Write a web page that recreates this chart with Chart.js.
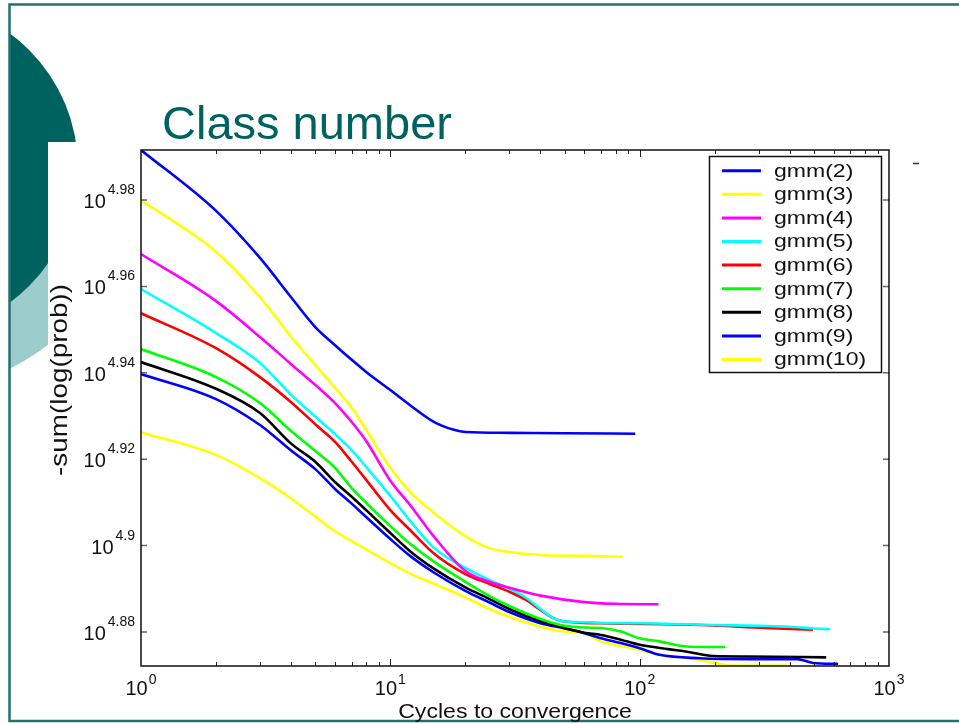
<!DOCTYPE html>
<html lang="en">
<head>
  <meta charset="UTF-8" />
  <title>Class number</title>
  <script src="https://cdn.jsdelivr.net/npm/chart.js"></script>
  <style>
    body {
      margin: 0;
      background: white;
      font-family: 'Liberation Sans', Arial, sans-serif;
      overflow: hidden;
    }
    #slide {
      position: relative;
      width: 959px;
      height: 723px;
    }
    #slide canvas {
      position: absolute;
      left: 0;
      top: 0;
    }
    h1 {
      position: absolute;
      left: 162px;
      top: 99px;
      margin: 0;
      font-size: 47px;
      line-height: 47px;
      font-weight: normal;
      color: #00625f;
    }
  </style>
</head>
<body>
  <div id="slide">
    <canvas id="gmmChart" width="959" height="723"></canvas>
    <h1>Class number</h1>
  </div>

  <script>
    // y values are log10(-sum(log(prob)))
    const labels = ['gmm(2)', 'gmm(3)', 'gmm(4)', 'gmm(5)', 'gmm(6)', 'gmm(7)', 'gmm(8)', 'gmm(9)', 'gmm(10)'];

    const cyc2 = [1, 2, 3, 4, 5, 6, 7, 8, 10, 12, 15, 18, 20, 30, 50, 96];
    const val2 = [4.9916, 4.9775, 4.9666, 4.9575, 4.9506, 4.9464, 4.9430, 4.9402, 4.9360, 4.9325, 4.9286, 4.9268, 4.9263, 4.9261, 4.9260, 4.9259];

    const cyc3 = [1, 2, 3, 4, 5, 6, 7, 8, 10, 12, 15, 20, 25, 30, 40, 60, 86];
    const val3 = [4.9800, 4.9680, 4.9575, 4.9483, 4.9418, 4.9365, 4.9319, 4.9268, 4.9180, 4.9124, 4.9075, 4.9022, 4.8994, 4.8985, 4.8978, 4.8976, 4.8974];

    const cyc4 = [1, 2, 3, 4, 5, 6, 7, 8, 10, 12, 15, 20, 25, 30, 40, 60, 80, 119];
    const val4 = [4.9675, 4.9566, 4.9483, 4.9420, 4.9372, 4.9330, 4.9286, 4.9242, 4.9150, 4.9094, 4.9020, 4.8941, 4.8916, 4.8902, 4.8884, 4.8869, 4.8865, 4.8864];

    const cyc5 = [1, 2, 3, 4, 5, 6, 7, 8, 10, 12, 15, 20, 25, 30, 35, 40, 45, 50, 100, 200, 300, 400, 500, 580];
    const val5 = [4.9594, 4.9492, 4.9423, 4.9349, 4.9299, 4.9258, 4.9221, 4.9182, 4.9115, 4.9057, 4.8994, 4.8948, 4.8920, 4.8900, 4.8879, 4.8853, 4.8832, 4.8824, 4.8820, 4.8816, 4.8814, 4.8812, 4.8808, 4.8806];

    const cyc6 = [1, 2, 3, 4, 5, 6, 7, 8, 10, 12, 15, 20, 25, 30, 35, 40, 45, 50, 70, 175, 320, 496];
    const val6 = [4.9538, 4.9457, 4.9390, 4.9332, 4.9281, 4.9240, 4.9194, 4.9152, 4.9082, 4.9036, 4.8981, 4.8934, 4.8911, 4.8893, 4.8874, 4.8851, 4.8832, 4.8824, 4.8820, 4.8816, 4.8809, 4.8805];

    const cyc7 = [1, 2, 3, 4, 5, 6, 7, 8, 10, 12, 15, 20, 25, 30, 40, 50, 60, 70, 84, 100, 120, 145, 175, 220];
    const val7 = [4.9455, 4.9390, 4.9330, 4.9265, 4.9219, 4.9180, 4.9133, 4.9099, 4.9045, 4.9004, 4.8962, 4.8916, 4.8883, 4.8860, 4.8830, 4.8814, 4.8810, 4.8809, 4.8801, 4.8785, 4.8778, 4.8768, 4.8765, 4.8765];

    const cyc8 = [1, 2, 3, 4, 5, 6, 7, 8, 10, 12, 15, 20, 25, 30, 40, 50, 60, 70, 84, 100, 130, 155, 197, 270, 560];
    const val8 = [4.9425, 4.9363, 4.9307, 4.9236, 4.9194, 4.9147, 4.9113, 4.9082, 4.9029, 4.8987, 4.8946, 4.8903, 4.8876, 4.8853, 4.8825, 4.8809, 4.8798, 4.8793, 4.8782, 4.8770, 4.8760, 4.8754, 4.8744, 4.8743, 4.8741];

    const cyc9 = [1, 2, 3, 4, 5, 6, 7, 8, 10, 12, 15, 20, 25, 30, 40, 50, 60, 70, 84, 100, 120, 175, 277, 428, 496, 625];
    const val9 = [4.9397, 4.9339, 4.9279, 4.9220, 4.9177, 4.9131, 4.9097, 4.9066, 4.9015, 4.8976, 4.8937, 4.8895, 4.8868, 4.8846, 4.8820, 4.8808, 4.8797, 4.8785, 4.8774, 4.8762, 4.8747, 4.8739, 4.8737, 4.8737, 4.8728, 4.8726];

    const cyc10 = [1, 2, 3, 4, 5, 6, 7, 8, 10, 12, 15, 20, 25, 30, 40, 50, 60, 70, 94, 120, 175, 237, 390];
    const val10 = [4.9262, 4.9210, 4.9156, 4.9109, 4.9067, 4.9033, 4.9010, 4.8991, 4.8959, 4.8935, 4.8911, 4.8880, 4.8853, 4.8835, 4.8812, 4.8801, 4.8797, 4.8778, 4.8762, 4.8747, 4.8735, 4.8722, 4.8722];

    const xTickExp = ['0', '1', '2', '3'];
    const yTickExp = ['4.88', '4.9', '4.92', '4.94', '4.96', '4.98'];

    const cycles = [cyc2, cyc3, cyc4, cyc5, cyc6, cyc7, cyc8, cyc9, cyc10];
    const values = [val2, val3, val4, val5, val6, val7, val8, val9, val10];
    const colors = ['#0000ff', '#ffff00', '#ff00ff', '#00ffff', '#ff0000', '#00ff00', '#000000', '#0000ff', '#ffff00'];

    const FONT = "'Liberation Sans', Arial, sans-serif";

    // slide background: teal border and the two circles on the left
    const slideDeco = {
      id: 'slideDeco',
      beforeDraw(chart) {
        const c = chart.ctx;
        c.save();
        c.fillStyle = '#fff';
        c.fillRect(0, 0, chart.width, chart.height);

        c.save();
        c.beginPath();
        c.rect(9, 142, 39, 600);
        c.clip();
        c.fillStyle = '#9dcccc';
        c.beginPath();
        c.arc(-89, 170, 222, 0, Math.PI * 2);
        c.fill();
        c.restore();

        c.save();
        c.beginPath();
        c.rect(9, 0, 200, 142);
        c.rect(9, 142, 39, 600);
        c.clip();
        c.fillStyle = '#00625f';
        c.beginPath();
        c.arc(-89, 168, 167, 0, Math.PI * 2);
        c.fill();
        c.restore();

        c.strokeStyle = '#21726f';
        c.lineWidth = 2.5;
        c.beginPath();
        c.moveTo(959, 4.5);
        c.lineTo(9.5, 4.5);
        c.lineTo(9.5, 721);
        c.lineTo(959, 721);
        c.stroke();
        c.restore();
      }
    };

    function powText(c, sup, x, y, align) {
      c.font = '20px ' + FONT;
      const wb = c.measureText('10').width;
      c.font = '14px ' + FONT;
      const ws = c.measureText(sup).width;
      let left, baseY, supY;
      if (align === 'center') {
        left = x - (wb + 1 + ws) / 2;
        baseY = y;
        supY = y - 11;
      } else {
        left = x - ws - 2 - wb;
        baseY = y + 8;
        supY = y - 6;
      }
      c.textAlign = 'left';
      c.textBaseline = 'alphabetic';
      c.font = '20px ' + FONT;
      c.fillText('10', left, baseY);
      c.font = '14px ' + FONT;
      c.fillText(sup, left + wb + (align === 'center' ? 1 : 2), supY);
    }

    // matlab style box, ticks and labels
    const axesBox = {
      id: 'axesBox',
      afterDatasetsDraw(chart) {
        const c = chart.ctx;
        const a = chart.chartArea;
        const xs = chart.scales.x;
        const ys = chart.scales.y;
        c.save();

        c.strokeStyle = '#222';
        c.lineWidth = 1;
        for (let d = 0; d < 3; d++) {
          for (let k = 1; k <= 9; k++) {
            if (k === 1 && d === 0) continue;
            const px = Math.round(xs.getPixelForValue(k * Math.pow(10, d))) + 0.5;
            const len = k === 1 ? 7 : 4;
            c.beginPath();
            c.moveTo(px, a.top);
            c.lineTo(px, a.top + len);
            c.moveTo(px, a.bottom);
            c.lineTo(px, a.bottom - len);
            c.stroke();
          }
        }

        c.strokeStyle = '#666';
        c.lineWidth = 1.5;
        yTickExp.forEach(t => {
          const py = ys.getPixelForValue(parseFloat(t));
          c.beginPath();
          c.moveTo(a.left, py);
          c.lineTo(a.left + 6, py);
          c.moveTo(a.right, py);
          c.lineTo(a.right - 6, py);
          c.stroke();
        });

        c.strokeStyle = '#111';
        c.lineWidth = 1.5;
        c.strokeRect(a.left, a.top, a.right - a.left, a.bottom - a.top);

        c.fillStyle = '#111';
        xTickExp.forEach(t => powText(c, t, xs.getPixelForValue(Math.pow(10, +t)), 695, 'center'));
        yTickExp.forEach(t => powText(c, t, a.left - 6, ys.getPixelForValue(parseFloat(t)), 'right'));

        // axis titles
        c.save();
        c.translate(515, 718);
        c.scale(1.1, 1);
        c.font = '21px ' + FONT;
        c.textAlign = 'center';
        c.fillText('Cycles to convergence', 0, 0);
        c.restore();

        c.save();
        c.translate(67, 380);
        c.rotate(-Math.PI / 2);
        c.scale(1.16, 1);
        c.font = '24px ' + FONT;
        c.textAlign = 'center';
        c.fillText('-sum(log(prob))', 0, 0);
        c.restore();

        // stray mark right of the axes
        c.strokeStyle = '#333';
        c.lineWidth = 1.5;
        c.beginPath();
        c.moveTo(913, 163.5);
        c.lineTo(919, 163.5);
        c.stroke();
        c.restore();
      },
      afterDraw(chart) {
        const c = chart.ctx;
        c.save();
        c.fillStyle = '#fff';
        c.fillRect(709.5, 156.5, 172, 216);
        c.strokeStyle = '#111';
        c.lineWidth = 1.5;
        c.strokeRect(709.5, 156.5, 172, 216);
        chart.data.datasets.forEach((ds, i) => {
          const y = 170.7 + i * 23.6;
          c.strokeStyle = ds.borderColor;
          c.lineWidth = 3;
          c.beginPath();
          c.moveTo(722, y);
          c.lineTo(761, y);
          c.stroke();
          c.save();
          c.translate(774, y + 1);
          c.scale(1.28, 1);
          c.fillStyle = '#111';
          c.font = '18px ' + FONT;
          c.textBaseline = 'middle';
          c.fillText(ds.label, 0, 0);
          c.restore();
        });
        c.restore();
      }
    };

    const datasets = labels.map((lab, i) => ({
      label: lab,
      data: cycles[i].map((cx, j) => ({ x: cx, y: values[i][j] })),
      borderColor: colors[i],
      borderWidth: 2.6,
      pointRadius: 0,
      fill: false,
      cubicInterpolationMode: 'monotone'
    }));

    new Chart(document.getElementById('gmmChart').getContext('2d'), {
      type: 'line',
      data: { datasets },
      options: {
        responsive: false,
        animation: false,
        layout: { padding: { left: 141, top: 150, right: 70, bottom: 57 } },
        plugins: { legend: { display: false }, tooltip: { enabled: false } },
        scales: {
          x: { type: 'logarithmic', min: 1, max: 1000, display: false },
          y: { type: 'linear', min: 4.8721, max: 4.9916, display: false }
        }
      },
      plugins: [slideDeco, axesBox]
    });
  </script>
</body>
</html>
